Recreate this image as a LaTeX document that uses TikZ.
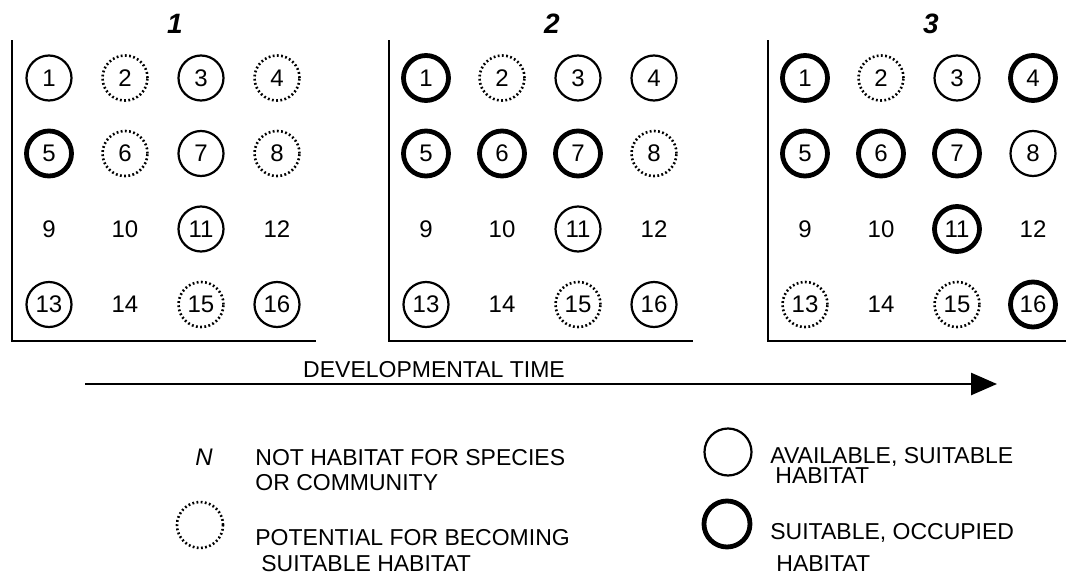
\documentclass[tikz,border=0pt]{standalone}
\usepackage{fontspec}
\setmainfont{Liberation Sans}
\usetikzlibrary{arrows.meta}
\tikzset{
  cell/.style={circle, minimum size=22.5pt, inner sep=0pt, font=\fontsize{12}{14}\selectfont},
  avail/.style={cell, draw, line width=1.1pt},
  occup/.style={cell, draw, line width=2.4pt},
  potent/.style={cell, draw, line width=1.3pt, dash pattern=on 0.9pt off 1.2pt},
  nohab/.style={cell},
  paneltitle/.style={font=\fontsize{14}{16}\selectfont\bfseries\itshape},
  legtext/.style={anchor=base west, inner sep=0pt, font=\fontsize{11.5}{13}\selectfont},
  axis/.style={line width=1.3pt},
  timearrow/.style={line width=1.3pt, -{Triangle[length=13pt,width=11pt]}},
}
\begin{document}
\begin{tikzpicture}[x=0.5pt,y=-0.5pt]
\useasboundingbox (0,0) rectangle (1066,578);

% the three stages
\foreach \p/\ox/\states in {
  1/12/{avail,potent,avail,potent,occup,potent,avail,potent,nohab,nohab,avail,nohab,avail,nohab,potent,avail},
  2/389/{occup,potent,avail,avail,occup,occup,occup,potent,nohab,nohab,avail,nohab,avail,nohab,potent,avail},
  3/768/{occup,potent,avail,occup,occup,occup,occup,avail,nohab,nohab,occup,nohab,potent,nohab,potent,occup}} {
  \draw[axis] (\ox,40) -- (\ox,341) -- (\ox+304,341);
  \node[paneltitle] (t\p) at (\ox+163,24) {\p};
  \foreach \s [count=\i] in \states {
    \pgfmathtruncatemacro\col{mod(\i-1,4)}
    \pgfmathtruncatemacro\row{(\i-1)/4}
    \node[\s] (c\p-\i) at ({\ox+37+76*\col},{78+75.5*\row}) {\i};
  }
}

% time axis
\coordinate (tstart) at (85,384);
\coordinate (tend) at (997,384);
\draw[timearrow] (tstart) -- (tend);
\node[legtext, anchor=base] (ttime) at (434,377) {DEVELOPMENTAL TIME};

% key
\node[font=\fontsize{12}{14}\selectfont\itshape] (knot) at (204,457) {N};
\node[legtext] (knot1) at (255,465) {NOT HABITAT FOR SPECIES};
\node[legtext] (knot2) at (255,490) {OR COMMUNITY};
\node[potent, minimum size=23pt] (kpot) at (200,525) {};
\node[legtext] (kpot1) at (255,545) {POTENTIAL FOR BECOMING};
\node[legtext] (kpot2) at (261,571) {SUITABLE HABITAT};
\node[avail, minimum size=23.5pt] (kav) at (728,452) {};
\node[legtext] (kav1) at (770,463) {AVAILABLE, SUITABLE};
\node[legtext] (kav2) at (775,483) {HABITAT};
\node[occup, minimum size=23pt] (kocc) at (727,524) {};
\node[legtext] (kocc1) at (770,539) {SUITABLE, OCCUPIED};
\node[legtext] (kocc2) at (776,571) {HABITAT};
\end{tikzpicture}
\end{document}
